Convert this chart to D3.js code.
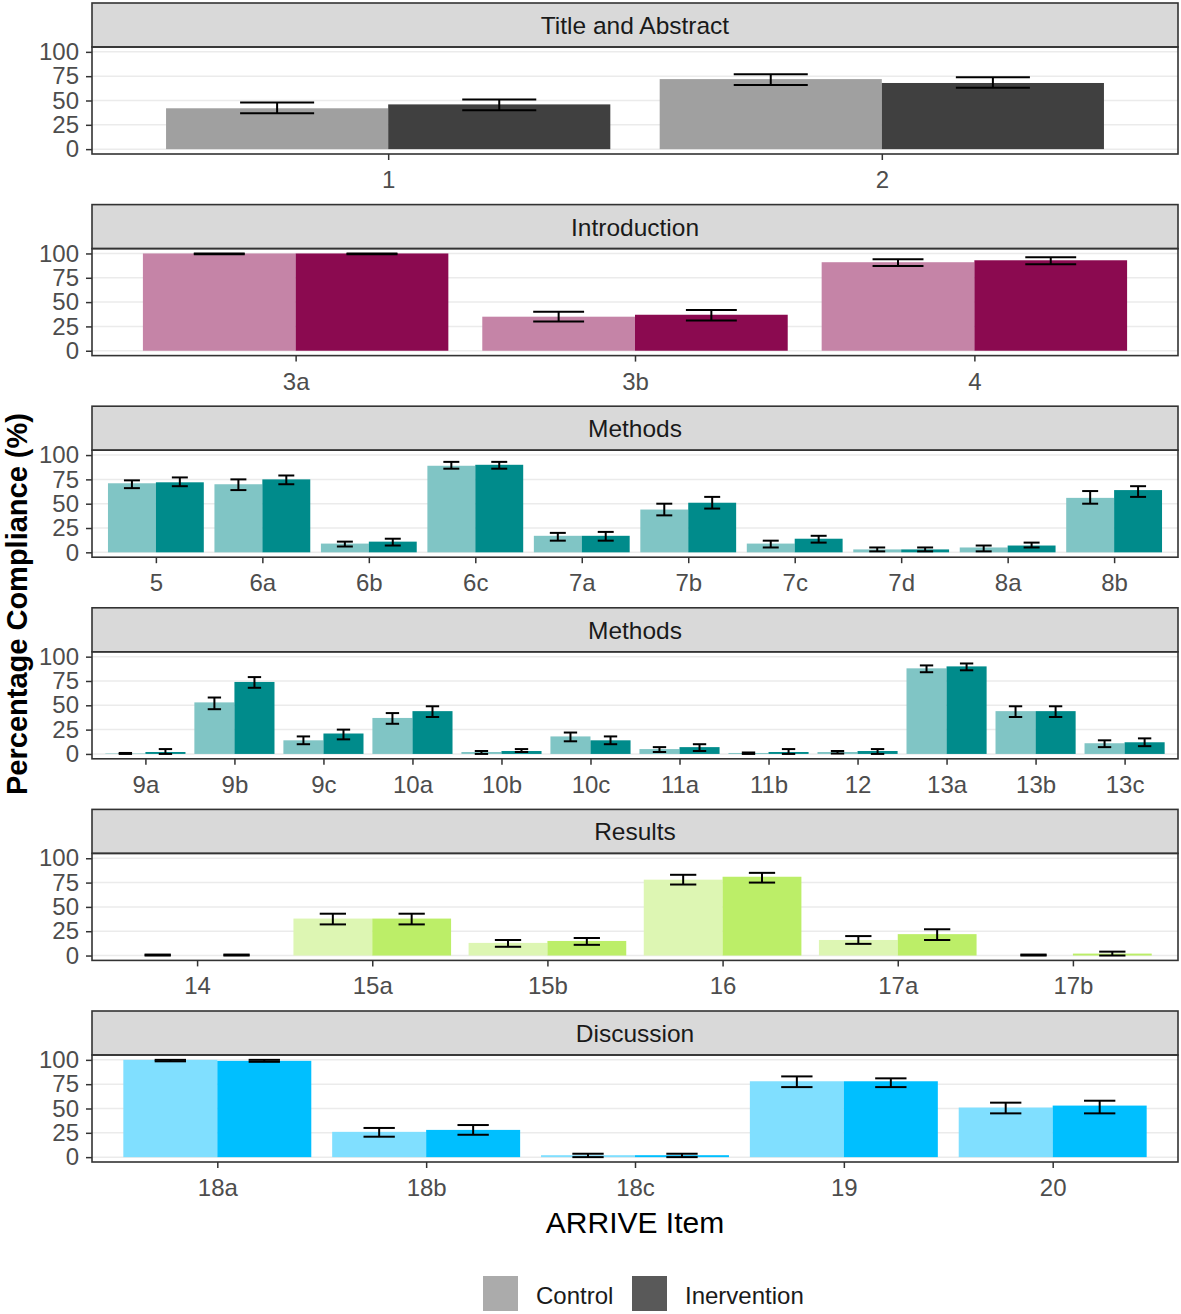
<!DOCTYPE html>
<html><head><meta charset="utf-8">
<script src="https://cdn.jsdelivr.net/npm/d3@7"></script>
<style>body{margin:0;background:#fff}svg{display:block}text{font-family:"Liberation Sans",Arial,sans-serif}</style>
</head><body><svg id="c" width="1181" height="1314"></svg>
<script>
const panelTitles = ["Title and Abstract","Introduction","Methods","Methods","Results","Discussion"];
const panelItems = [
  ["1","2"],
  ["3a","3b","4"],
  ["5","6a","6b","6c","7a","7b","7c","7d","8a","8b"],
  ["9a","9b","9c","10a","10b","10c","11a","11b","12","13a","13b","13c"],
  ["14","15a","15b","16","17a","17b"],
  ["18a","18b","18c","19","20"]
];
const controlMean = [[42,72],[100,35,91],[71,70,9,89,17,44,9,3,5,56],[0.5,53,14,37,2,18,5,1,2,88,44,11],[0,38,13,78,16,0],[100,26,2,78,51]];
const controlLo   = [[37,66],[99.3,30,87],[66,64,6,86,12,38,5,1,1,50],[0,46,10,31,0,13,2,0,0.4,84,38,7],[0,32,9,73,12,0],[98.5,21,0,72,45]];
const controlHi   = [[48,77],[100,40,94],[74,75,11,93,20,50,12,5,7,63],[1,58,18,42,3,22,7,1.5,3,91,49,14],[1,43,16,83,20,1],[100,30,3.5,83,56]];
const interMean   = [[46,68],[100,37,93],[72,75,11,90,17,51,14,3,7,64],[2,74,21,44,3,14,7,2,3,90,44,12],[0,38,15,81,22,2],[99,28,2,78,53]];
const interLo     = [[40,63],[99.3,31,89],[68,70,7,86,12,45,10,1,5,57],[0,68,15,38,2,10,3,0,0,86,38,8],[0,32,11,75,16,0],[98,23,0,72,45]];
const interHi     = [[51,74],[100,42,96],[77,79,14,93,21,57,17,5,10,68],[5,79,25,49,5,18,10,5,5,93,49,16],[1,43,18,85,27,4],[100,33,3.5,81,58]];
const yTicks = [0,25,50,75,100];
const legendLabels = ["Control","Inervention"];

// styles
const controlColors = ["#A0A0A0","#C584A7","#80C5C5","#80C5C5","#DDF6B3","#80DFFF"];
const interColors   = ["#404040","#8B0A50","#008B8B","#008B8B","#BCEE68","#00BFFF"];
const legendColors  = ["#ABABAB","#595959"];

const svg = d3.select("#c");
const L = 92, R = 1178;
const panelStep = 201.6, stripH = 44, plotH = 107;

panelTitles.forEach((title, i) => {
  const top = 3 + i * panelStep;
  const pTop = top + stripH, pBot = pTop + plotH;
  const g = svg.append("g");
  const x = d3.scalePoint().domain(panelItems[i]).range([L, R]).padding(0.6);
  const step = x.step();
  const y = d3.scaleLinear().domain([-5, 105]).range([pBot, pTop]);

  // strip
  g.append("rect").attr("x", L).attr("y", top).attr("width", R - L).attr("height", stripH)
    .attr("fill", "#d9d9d9").attr("stroke", "#333").attr("stroke-width", 1.6);
  g.append("text").attr("x", (L + R) / 2).attr("y", top + stripH / 2 + 9)
    .attr("text-anchor", "middle").attr("font-size", 24.5).attr("fill", "#1a1a1a").text(title);

  // grid
  g.selectAll(".grid").data(yTicks).enter().append("line")
    .attr("x1", L).attr("x2", R).attr("y1", d => y(d)).attr("y2", d => y(d))
    .attr("stroke", "#ebebeb").attr("stroke-width", 1.5);

  const rows = panelItems[i].map((k, j) => ({
    k, c: controlMean[i][j], cl: controlLo[i][j], ch: controlHi[i][j],
    m: interMean[i][j], ml: interLo[i][j], mh: interHi[i][j]
  }));
  const bw = step * 0.45;
  // bars
  rows.forEach(r => {
    const xc = x(r.k);
    g.append("rect").attr("x", xc - bw).attr("width", bw)
      .attr("y", y(r.c)).attr("height", Math.max(0, y(0) - y(r.c))).attr("fill", controlColors[i]);
    g.append("rect").attr("x", xc).attr("width", bw)
      .attr("y", y(r.m)).attr("height", Math.max(0, y(0) - y(r.m))).attr("fill", interColors[i]);
  });
  // error bars
  const ew = step * 0.15 / 2;
  rows.forEach(r => {
    [[x(r.k) - bw / 2, r.cl, r.ch], [x(r.k) + bw / 2, r.ml, r.mh]].forEach(([cx, lo, hi]) => {
      const eg = g.append("g").attr("stroke", "#000").attr("stroke-width", 2);
      eg.append("line").attr("x1", cx - ew).attr("x2", cx + ew).attr("y1", y(hi)).attr("y2", y(hi));
      eg.append("line").attr("x1", cx - ew).attr("x2", cx + ew).attr("y1", y(lo)).attr("y2", y(lo));
      eg.append("line").attr("x1", cx).attr("x2", cx).attr("y1", y(hi)).attr("y2", y(lo));
    });
  });

  // border
  g.append("rect").attr("x", L).attr("y", pTop).attr("width", R - L).attr("height", plotH)
    .attr("fill", "none").attr("stroke", "#333").attr("stroke-width", 1.6);

  // axes
  const ya = g.append("g").attr("transform", `translate(${L},0)`)
    .call(d3.axisLeft(y).tickValues(yTicks).tickSize(6).tickPadding(7));
  ya.select(".domain").remove();
  ya.selectAll("line").attr("stroke", "#333").attr("stroke-width", 1.5);
  ya.selectAll("text").attr("font-size", 24).attr("fill", "#4d4d4d").attr("font-family", "Liberation Sans, Arial, sans-serif");

  const xa = g.append("g").attr("transform", `translate(0,${pBot})`)
    .call(d3.axisBottom(x).tickSize(6).tickPadding(11));
  xa.select(".domain").remove();
  xa.selectAll("line").attr("stroke", "#333").attr("stroke-width", 1.5);
  xa.selectAll("text").attr("font-size", 24).attr("fill", "#4d4d4d").attr("font-family", "Liberation Sans, Arial, sans-serif");
});

// axis titles
svg.append("text").attr("x", 635).attr("y", 1233).attr("text-anchor", "middle")
  .attr("font-size", 30).attr("fill", "#000").text("ARRIVE Item");
svg.append("text").attr("transform", "translate(27,604) rotate(-90)").attr("text-anchor", "middle")
  .attr("font-size", 29).attr("font-weight", "bold").attr("fill", "#000").text("Percentage Compliance (%)");

// legend
const legX = [483, 632];
legendLabels.forEach((lab, i) => {
  svg.append("rect").attr("x", legX[i]).attr("y", 1276).attr("width", 35).attr("height", 35).attr("fill", legendColors[i]);
  svg.append("text").attr("x", legX[i] + 53).attr("y", 1304).attr("font-size", 24).attr("fill", "#1a1a1a").text(lab);
});
</script></body></html>
